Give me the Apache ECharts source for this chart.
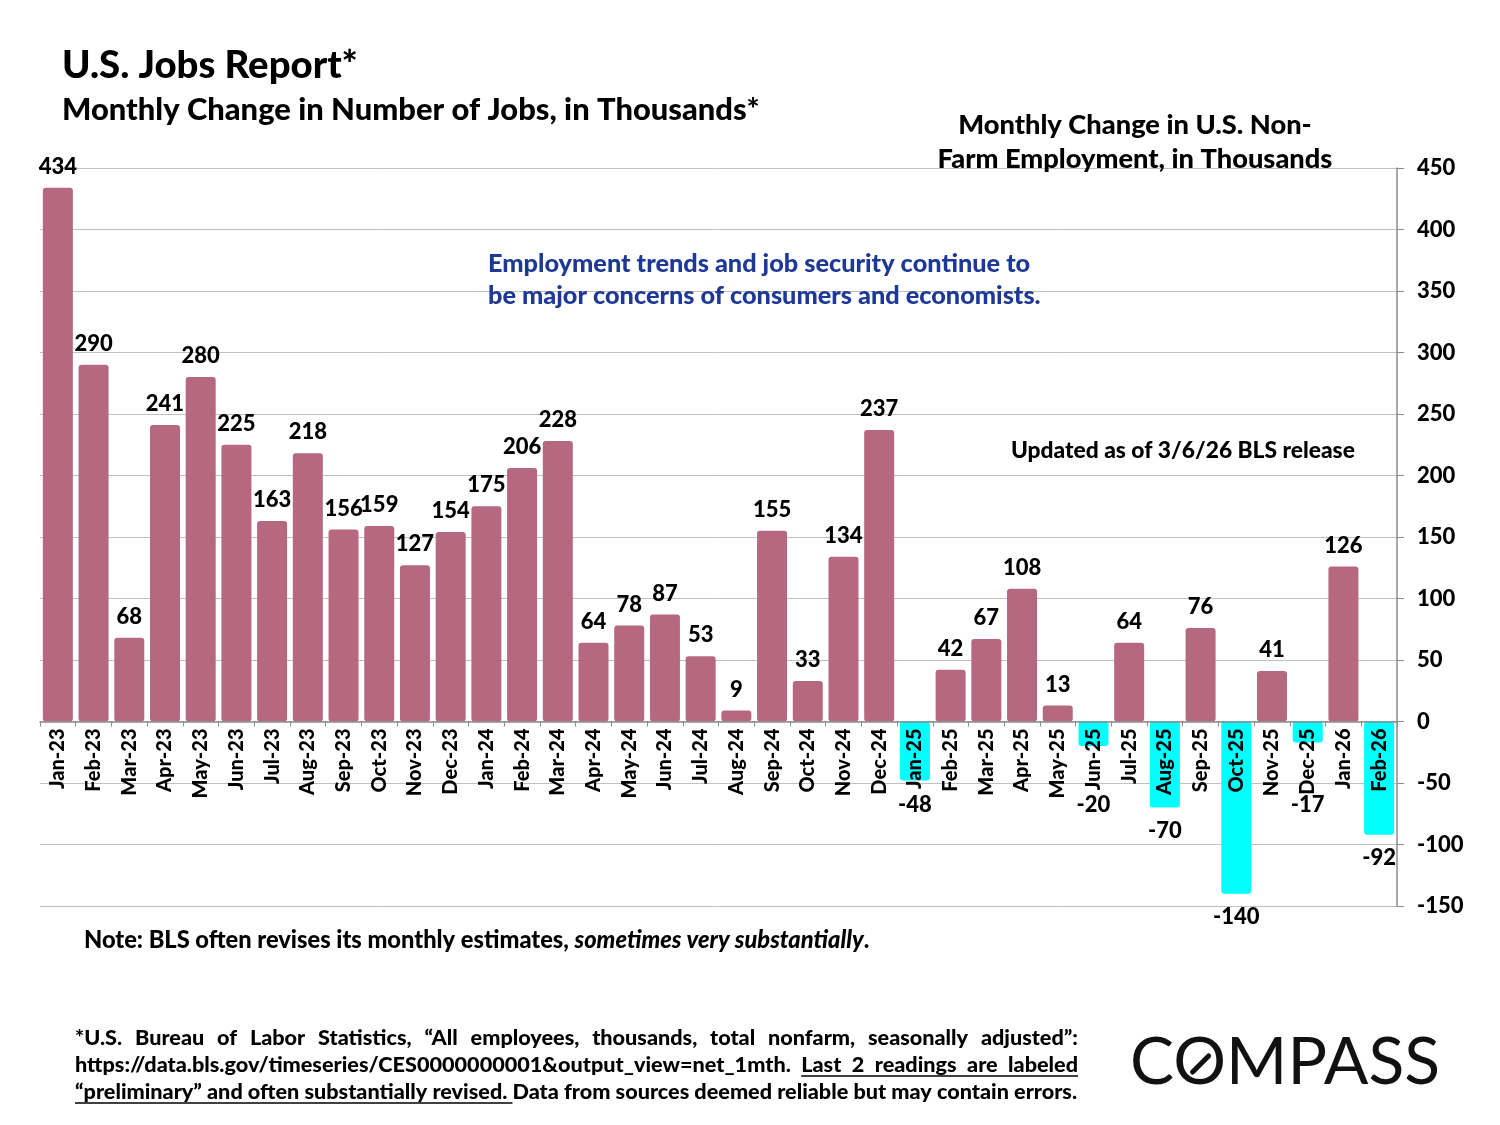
<!DOCTYPE html>
<html>
<head>
<meta charset="utf-8">
<script src="https://cdn.jsdelivr.net/npm/echarts@6/dist/echarts.min.js"></script>
<style>
html,body{margin:0;padding:0;background:#fff;}
#chart{width:1500px;height:1125px;}
</style>
</head>
<body>
<div id="chart"></div>
<script>
const categories = ['Jan-23','Feb-23','Mar-23','Apr-23','May-23','Jun-23','Jul-23','Aug-23','Sep-23','Oct-23','Nov-23','Dec-23',
  'Jan-24','Feb-24','Mar-24','Apr-24','May-24','Jun-24','Jul-24','Aug-24','Sep-24','Oct-24','Nov-24','Dec-24',
  'Jan-25','Feb-25','Mar-25','Apr-25','May-25','Jun-25','Jul-25','Aug-25','Sep-25','Oct-25','Nov-25','Dec-25',
  'Jan-26','Feb-26'];
const jobChanges = [434,290,68,241,280,225,163,218,156,159,127,154,
  175,206,228,64,78,87,53,9,155,33,134,237,
  -48,42,67,108,13,-20,64,-70,76,-140,41,-17,
  126,-92];
const yMin = -150, yMax = 450, yStep = 50;

const FONT = 'Lato';
const W = '900';
const mctx = document.createElement('canvas').getContext('2d');
function measure(t, size, weight, style){
  mctx.font = (style||'normal') + ' ' + (weight||W) + ' ' + size + 'px ' + FONT;
  return mctx.measureText(t).width;
}
function fitSize(t, target, weight){
  return 100 * target / measure(t, 100, weight);
}

const chart = echarts.init(document.getElementById('chart'));

// grid geometry
const gTop = 168, gBottom = 906, gLeft = 40, gRight = 1397;
const pxPerUnit = (gBottom - gTop) / (yMax - yMin);
const zeroY = gTop + yMax * pxPerUnit;

const seriesData = jobChanges.map(v => {
  if (v >= 0) return { value: v, label: { position: 'top', distance: 10 } };
  const barBottom = zeroY - v * pxPerUnit;
  const center = Math.max(barBottom + 23, 805);
  return { value: v, label: { position: 'bottom', distance: center - 11 - barBottom } };
});

const graphics = [];
function txt(text, x, y, size, opts){
  opts = opts || {};
  graphics.push({
    type: 'text', x: x, y: y, z: 100,
    style: Object.assign({
      text: text, fill: opts.fill || '#000',
      font: (opts.fontStyle||'normal') + ' ' + (opts.weight||W) + ' ' + size + 'px ' + FONT,
      textAlign: opts.align || 'left', textVerticalAlign: 'middle'
    }, opts.extra || {})
  });
}

// titles
const t1 = 'U.S. Jobs Report*';
txt(t1, 62, 66, fitSize(t1, 296));
const t2 = 'Monthly Change in Number of Jobs, in Thousands*';
txt(t2, 62, 110, fitSize(t2, 698));
const r1 = 'Monthly Change in U.S. Non-', r2 = 'Farm Employment, in Thousands';
const rSize = fitSize(r2, 395);
txt(r1, 1135, 125, rSize, {align: 'center'});
txt(r2, 1135, 159, rSize, {align: 'center'});
const b1 = 'Employment trends and job security continue to', b2 = 'be major concerns of consumers and economists.';
const bSize = fitSize(b2, 553);
txt(b1, 488, 264, bSize, {fill: '#1D3897'});
txt(b2, 488, 296, bSize, {fill: '#1D3897'});
const u1 = 'Updated as of 3/6/26 BLS release';
txt(u1, 1011, 451, fitSize(u1, 344));

// note
const nA = 'Note: BLS often revises its monthly estimates, ', nB = 'sometimes very substantially', nC = '.';
const nW = measure(nA, 100) + measure(nB, 100, W, 'italic') + measure(nC, 100);
const nSize = 100 * 786 / nW;
graphics.push({
  type: 'text', x: 84, y: 940, z: 100,
  style: {
    text: '{a|' + nA + '}{b|' + nB + '}{a|' + nC + '}',
    textVerticalAlign: 'middle',
    rich: {
      a: { fontFamily: FONT, fontWeight: W, fontSize: nSize, fill: '#000' },
      b: { fontFamily: FONT, fontWeight: W, fontStyle: 'italic', fontSize: nSize, fill: '#000' }
    }
  }
});

// footnote (justified)
const fLeft = 75, fRight = 1078;
const fLines = [
  '*U.S. Bureau of Labor Statistics, \u201cAll employees, thousands, total nonfarm, seasonally adjusted\u201d:',
  'https://data.bls.gov/timeseries/CES0000000001&output_view=net_1mth. Last 2 readings are labeled',
  '\u201cpreliminary\u201d and often substantially revised. Data from sources deemed reliable but may contain errors.'
];
const fY = [1038, 1065, 1092];
const fSize = fitSize(fLines[2], fRight - fLeft);
fLines.forEach((line, i) => {
  const words = line.split(' ');
  let size = fSize;
  const spaceW = measure(' ', size);
  let wordsW = words.reduce((s, w) => s + measure(w, size), 0);
  if (i === 2) {
    txt(line, fLeft, fY[i], size);
    const uText = '\u201cpreliminary\u201d and often substantially revised.';
    const uw = measure(uText, size) + spaceW;
    graphics.push({type: 'line', z: 100, shape: {x1: fLeft, y1: fY[i] + 11, x2: fLeft + uw, y2: fY[i] + 11}, style: {stroke: '#000', lineWidth: 1.5}});
    return;
  }
  if (wordsW + spaceW * (words.length - 1) > fRight - fLeft) {
    size = size * (fRight - fLeft) / (wordsW + spaceW * (words.length - 1)) * 0.995;
    wordsW = words.reduce((s, w) => s + measure(w, size), 0);
  }
  const gap = (fRight - fLeft - wordsW) / (words.length - 1);
  let x = fLeft;
  let ulStart = null;
  words.forEach((w, j) => {
    txt(w, x, fY[i], size);
    if (i === 1 && w === 'Last') ulStart = x;
    x += measure(w, size) + gap;
  });
  if (i === 1 && ulStart !== null) {
    graphics.push({type: 'line', z: 100, shape: {x1: ulStart, y1: fY[i] + 11, x2: fRight, y2: fY[i] + 11}, style: {stroke: '#000', lineWidth: 1.5}});
  }
});

// COMPASS logo
const logo = 'COMPASS';
const LOGOFONT = 'Lato';
mctx.font = '400 100px ' + LOGOFONT;
const logoW100 = mctx.measureText(logo).width;
const logoSize = Math.min(66, 100 * 315 / logoW100);
mctx.font = '400 ' + logoSize + 'px ' + LOGOFONT;
const logoW = mctx.measureText(logo).width;
const cW = mctx.measureText('C').width, oW = mctx.measureText('O').width;
const logoX = 1440 - logoW, logoY = 1063;
graphics.push({
  type: 'text', x: logoX, y: logoY, z: 100,
  style: { text: logo, font: '400 ' + logoSize + 'px ' + LOGOFONT, fill: '#111', textVerticalAlign: 'middle' }
});
const ox = logoX + cW + oW / 2, oy = logoY + 1;
graphics.push({type: 'line', z: 101, shape: {x1: ox - 8, y1: oy + 8, x2: ox + 8, y2: oy - 8}, style: {stroke: '#111', lineWidth: 5, lineCap: 'round'}});

chart.setOption({
  animation: false,
  backgroundColor: '#fff',
  textStyle: { fontFamily: FONT },
  grid: { left: gLeft, right: 1500 - gRight, top: gTop, bottom: 1125 - gBottom, containLabel: false },
  xAxis: {
    type: 'category',
    data: categories,
    position: 'bottom',
    offset: -(gBottom - zeroY),
    z: 10,
    axisLine: { onZero: false, lineStyle: { color: '#8C8C8C', width: 1.5 } },
    axisTick: { show: true, alignWithLabel: false, length: 5, lineStyle: { color: '#8C8C8C' } },
    axisLabel: { rotate: 90, interval: 0, margin: 7, fontSize: 20, fontWeight: W, color: '#000', fontFamily: FONT },
    splitLine: { show: false }
  },
  yAxis: {
    type: 'value',
    position: 'right',
    min: yMin, max: yMax, interval: yStep,
    axisLine: { show: true, lineStyle: { color: '#8C8C8C', width: 1.5 } },
    axisTick: { show: true, length: 7, lineStyle: { color: '#8C8C8C' } },
    axisLabel: { margin: 20, fontSize: 22, fontWeight: W, color: '#000', fontFamily: FONT },
    splitLine: { show: true, lineStyle: { color: '#C0C0C0', width: 1 } }
  },
  series: [{
    type: 'bar',
    data: seriesData,
    barCategoryGap: '16%',
    itemStyle: {
      borderRadius: 3,
      color: p => (p.value < 0 ? '#00FFFF' : '#B5687F')
    },
    label: { show: true, fontSize: 22, fontWeight: W, color: '#000', fontFamily: FONT, formatter: '{c}' }
  }],
  graphic: graphics
});
</script>
</body>
</html>
